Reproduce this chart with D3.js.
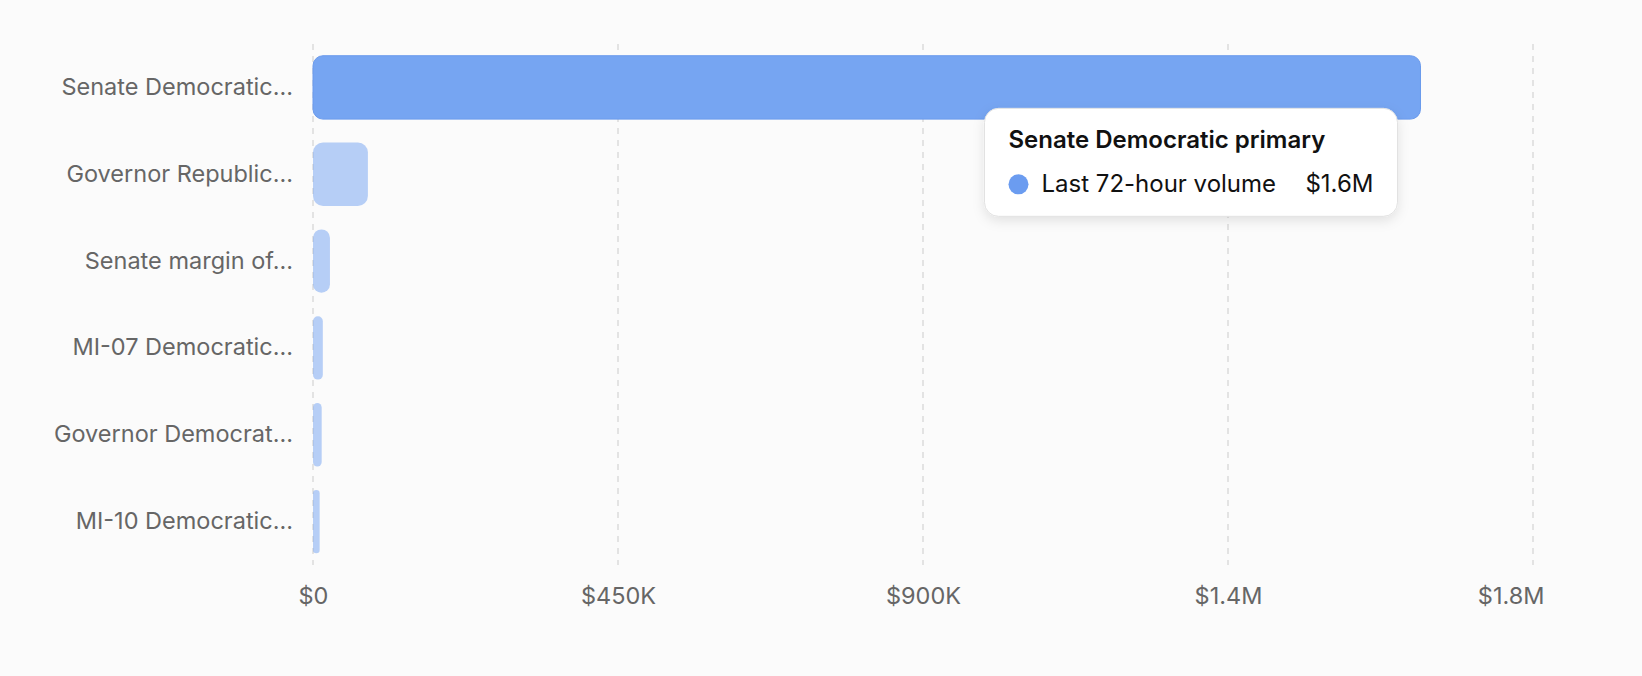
<!DOCTYPE html>
<html>
<head>
<meta charset="utf-8">
<script src="https://cdn.jsdelivr.net/npm/d3@7"></script>
<style>
  html, body { margin: 0; padding: 0; background: #fbfbfb; }
  svg { display: block; font-family: Inter, "Noto Sans", sans-serif; }
</style>
</head>
<body>
<div id="chart"></div>
<script>
// market names (truncated as on the axis) and full name of the hovered one
const labels = [
  "Senate Democratic...",
  "Governor Republic...",
  "Senate margin of...",
  "MI-07 Democratic...",
  "Governor Democrat...",
  "MI-10 Democratic..."
];
const volumes = [1634000, 81000, 25000, 14500, 12800, 9800];
const xTicks = [0, 450000, 900000, 1350000, 1800000];
const seriesName = "Last 72-hour volume";
const hoverIndex = 0;
const hoverTitle = "Senate Democratic primary";

const W = 1642, H = 676;
const margin = { top: 44, right: 109, bottom: 111, left: 313 };

const svg = d3.select("#chart").append("svg")
  .attr("width", W).attr("height", H);

const defs = svg.append("defs");
const shadow = defs.append("filter").attr("id", "shadow")
  .attr("x", "-20%").attr("y", "-30%").attr("width", "140%").attr("height", "170%");
shadow.append("feDropShadow").attr("dx", 0).attr("dy", 4).attr("stdDeviation", 6)
  .attr("flood-color", "#000").attr("flood-opacity", 0.1);

const x = d3.scaleLinear()
  .domain([0, 1800000])
  .range([margin.left, W - margin.right]);

const y = d3.scaleBand()
  .domain(labels)
  .range([margin.top, H - margin.bottom])
  .paddingInner(0.27)
  .paddingOuter(0.135);

const fmt = v => v === 0 ? "$0" : "$" + d3.format(".2s")(v).replace("k", "K");

// grid
svg.append("g")
  .selectAll("line")
  .data(xTicks)
  .join("line")
  .attr("x1", d => x(d)).attr("x2", d => x(d))
  .attr("y1", margin.top).attr("y2", H - margin.bottom)
  .attr("stroke", "#dcdcdc")
  .attr("stroke-width", 1.5)
  .attr("stroke-dasharray", "6,6");

// x axis
const xAxis = svg.append("g")
  .attr("transform", "translate(0," + (H - margin.bottom) + ")")
  .call(d3.axisBottom(x).tickValues(xTicks).tickFormat(fmt).tickSize(0).tickPadding(22));
xAxis.select(".domain").remove();
xAxis.selectAll("text")
  .attr("fill", "#666")
  .attr("font-size", 23.5)
  .attr("font-family", "Inter, 'Noto Sans', sans-serif");
// last label is pulled back so it stays inside the plot edge
xAxis.selectAll(".tick:last-of-type text")
  .attr("text-anchor", "end")
  .attr("x", 11);

// y axis
const yAxis = svg.append("g")
  .attr("transform", "translate(" + margin.left + ",0)")
  .call(d3.axisLeft(y).tickSize(0).tickPadding(20));
yAxis.select(".domain").remove();
yAxis.selectAll("text")
  .attr("fill", "#666")
  .attr("font-size", 23.5)
  .attr("font-family", "Inter, 'Noto Sans', sans-serif");

// bars
svg.append("g")
  .selectAll("rect")
  .data(volumes)
  .join("rect")
  .attr("x", x(0))
  .attr("y", (d, i) => y(labels[i]))
  .attr("width", d => x(d) - x(0))
  .attr("height", y.bandwidth())
  .attr("rx", d => Math.min(10, (x(d) - x(0)) / 2))
  .attr("fill", "#76a5f2")
  .attr("stroke", (d, i) => i === hoverIndex ? "#6a9aec" : "none")
  .attr("stroke-width", 1)
  .attr("opacity", (d, i) => i === hoverIndex ? 1 : 0.52);

// tooltip
const tipW = 413, tipH = 108;
const tipX = x(volumes[hoverIndex]) - 436;
const tipY = y(labels[hoverIndex]) + y.bandwidth() * 0.83;
const tip = svg.append("g").attr("transform", "translate(" + tipX + "," + tipY + ")");
tip.append("rect")
  .attr("width", tipW).attr("height", tipH)
  .attr("rx", 14)
  .attr("fill", "#fff")
  .attr("stroke", "#e2e2e2")
  .attr("filter", "url(#shadow)");
tip.append("text")
  .attr("x", 24).attr("y", 40)
  .attr("font-size", 24)
  .attr("font-weight", 600)
  .attr("fill", "#111")
  .text(hoverTitle);
tip.append("circle")
  .attr("cx", 34).attr("cy", 76).attr("r", 10)
  .attr("fill", "#6b9cf0");
tip.append("text")
  .attr("x", 57).attr("y", 84)
  .attr("font-size", 24)
  .attr("fill", "#111")
  .text(seriesName);
tip.append("text")
  .attr("x", tipW - 24).attr("y", 84)
  .attr("text-anchor", "end")
  .attr("font-size", 24)
  .attr("fill", "#111")
  .text(fmt(volumes[hoverIndex]));
</script>
</body>
</html>
